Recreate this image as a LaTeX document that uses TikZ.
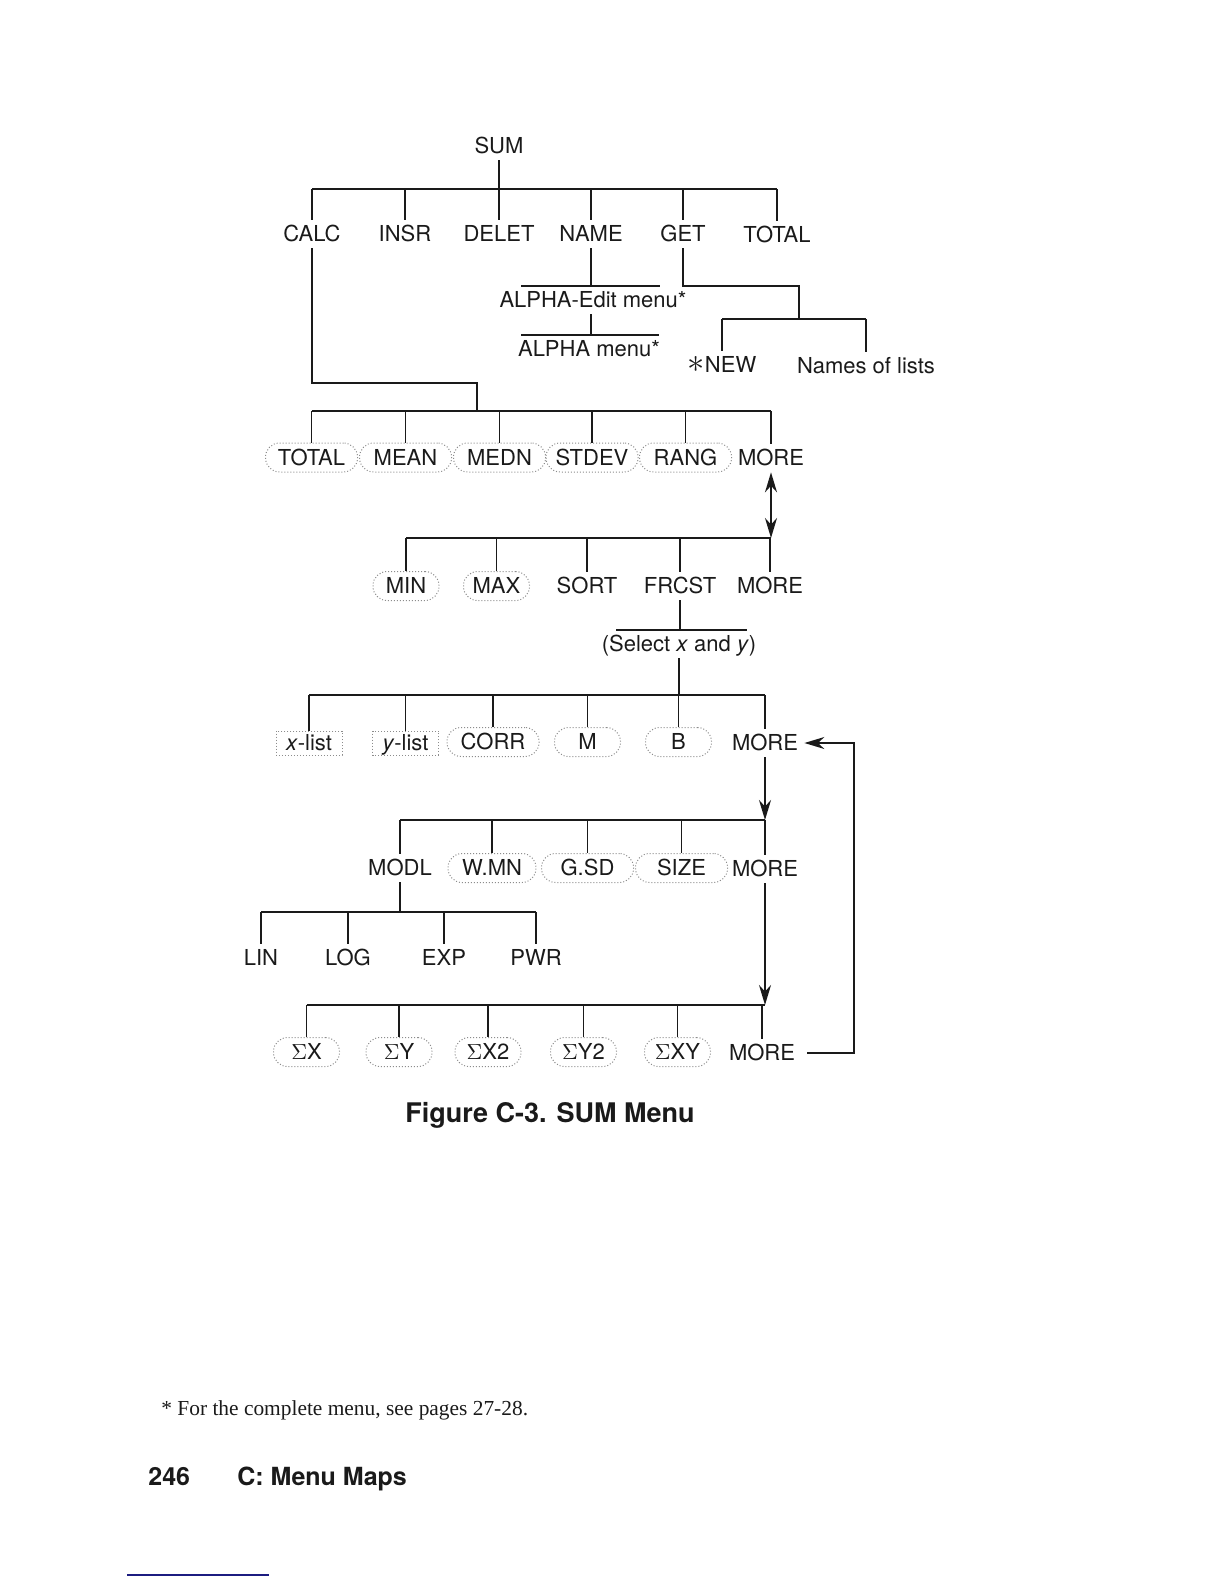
\documentclass[tikz,border=0pt]{standalone}
\usepackage{fontspec}
\setmainfont{Liberation Serif}
\setsansfont{TeX Gyre Heros}
\usetikzlibrary{arrows.meta,calc}
\definecolor{ink}{HTML}{1A1A1A}
\definecolor{dotgray}{HTML}{8C8C8C}
\definecolor{rulenavy}{HTML}{1C1C80}

\begin{document}
\begin{tikzpicture}[
  x=0.5bp,y=-0.5bp,
  font=\sffamily\fontsize{11bp}{13bp}\selectfont,
  lbl/.style={inner sep=3bp,text height=7.9bp,text depth=0pt,text=ink},
  softkey/.style={draw=dotgray,densely dotted,line width=0.5bp,rounded corners=7bp,
              minimum width=46bp,minimum height=14.5bp,inner sep=0pt,
              text height=7.9bp,text depth=0pt,text=ink},
  softkeyn/.style={softkey,minimum width=33bp},
  lst/.style={draw=dotgray,densely dotted,line width=0.5bp,minimum width=33bp,
              minimum height=12bp,inner sep=0pt,text height=7.9bp,text depth=0pt,text=ink},
  ln/.style={draw=ink,line width=0.9bp},
  arr/.style={ln,-{Stealth[length=10bp,width=6bp]}},
  arrs/.style={ln,{Stealth[length=10bp,width=6bp]}-{Stealth[length=10bp,width=6bp]}}
]
\useasboundingbox (0,0) rectangle (1224,1584);

% ---- level 1: SUM menu
\node[lbl] (sum) at (499,146) {SUM};
\node[lbl] (calc) at (312,234) {CALC};
\node[lbl] (insr) at (405,234) {INSR};
\node[lbl] (delet) at (499,234) {DELET};
\node[lbl] (name) at (591,234) {NAME};
\node[lbl] (get) at (683,234) {GET};
\node[lbl] (total) at (777,235) {TOTAL};
\coordinate (b1) at (499,189);
\draw[ln] (sum.south) -- (sum.south |- b1);
\draw[ln] (calc.north |- b1) -- (total.north |- b1);
\foreach \n in {calc,insr,delet,name,get,total}
  \draw[ln] (\n.north |- b1) -- (\n.north);

% ---- NAME branch
\node[lbl] (aedit) at (593,300) {ALPHA-Edit menu*};
\node[lbl] (alpha) at (589,349) {ALPHA menu*};
\draw[ln] (name.south) -- (name.south |- aedit.north);
\draw[ln] ($(aedit.north)+(-72,0)$) -- ($(aedit.north)+(67,0)$);
\draw[ln] (name.south |- aedit.south) -- (name.south |- alpha.north);
\draw[ln] ($(alpha.north)+(-68,0)$) -- ($(alpha.north)+(70,0)$);

% ---- GET branch
\node[lbl] (new) at (722,365) {{\fontsize{17bp}{17bp}\selectfont$\ast$}NEW};
\node[lbl] (lists) at (866,366) {Names of lists};
\coordinate (g1) at (799,286);
\coordinate (bg) at (799,319);
\draw[ln] (get.south) |- (g1) -- (bg);
\draw[ln] (new.north |- bg) -- (lists.north |- bg);
\foreach \n in {new,lists}
  \draw[ln] (\n.north |- bg) -- (\n.north);

% ---- CALC: row 2
\coordinate (c1) at (477,383);
\coordinate (b2) at (477,411);
\draw[ln] (calc.south) |- (c1) -- (b2);
\node[softkey] (tot) at (311.5,457.5) {TOTAL};
\node[softkey] (mean) at (405.5,457.5) {MEAN};
\node[softkey] (medn) at (499.5,457.5) {MEDN};
\node[softkey] (stdev) at (592,457.5) {STDEV};
\node[softkey] (rang) at (685.5,457.5) {RANG};
\node[lbl] (more1) at (771,458) {MORE};
\draw[ln] (tot.north |- b2) -- (more1.north |- b2);
\foreach \n in {tot,mean,medn,stdev,rang,more1}
  \draw[ln] (\n.north |- b2) -- (\n.north);

% ---- row 3
\coordinate (b3) at (771,538);
\draw[arrs] (more1.south) -- (b3);
\node[softkeyn] (min) at (406,586) {MIN};
\node[softkeyn] (max) at (496.5,586) {MAX};
\node[lbl] (sort) at (587,586) {SORT};
\node[lbl] (frcst) at (680,586) {FRCST};
\node[lbl] (more2) at (770,586) {MORE};
\draw[ln] (min.north |- b3) -- (b3);
\foreach \n in {min,max,sort,frcst,more2}
  \draw[ln] (\n.north |- b3) -- (\n.north);

% ---- FRCST: select x and y, row 4
\node[lbl] (sel) at (679,644) {(Select \textit{x} and \textit{y})};
\draw[ln] (frcst.south) -- (frcst.south |- sel.north);
\draw[ln] ($(sel.north)+(-63,0)$) -- ($(sel.north)+(68,0)$);
\coordinate (b4) at (767,695);
\draw[ln] (sel.south) -- (sel.south |- b4);
\node[lst] (xl) at (309,743) {\textit{x}-list};
\node[lst] (yl) at (405.5,743) {\textit{y}-list};
\node[softkey] (corr) at (493,742) {CORR};
\node[softkeyn] (m) at (587.5,742) {M};
\node[softkeyn] (b) at (678.5,742) {B};
\node[lbl] (more3) at (765,743) {MORE};
\draw[ln] (xl.north |- b4) -- (more3.north |- b4);
\foreach \n in {xl,yl,corr,m,b,more3}
  \draw[ln] (\n.north |- b4) -- (\n.north);

% ---- row 5
\coordinate (b5) at (765,820);
\draw[arr] (more3.south) -- (b5);
\node[lbl] (modl) at (400,868) {MODL};
\node[softkey,minimum width=44bp] (wmn) at (492,868) {W.MN};
\node[softkey] (gsd) at (587.5,868) {G.SD};
\node[softkey] (size) at (681.5,868) {SIZE};
\node[lbl] (more4) at (765,869) {MORE};
\draw[ln] (modl.north |- b5) -- (b5);
\foreach \n in {modl,wmn,gsd,size,more4}
  \draw[ln] (\n.north |- b5) -- (\n.north);

% ---- MODL: regression models
\coordinate (b6) at (400,912);
\draw[ln] (modl.south) -- (b6);
\node[lbl] (lin) at (261,958) {LIN};
\node[lbl] (log) at (348,958) {LOG};
\node[lbl] (exp) at (444,958) {EXP};
\node[lbl] (pwr) at (536,958) {PWR};
\draw[ln] (lin.north |- b6) -- (pwr.north |- b6);
\foreach \n in {lin,log,exp,pwr}
  \draw[ln] (\n.north |- b6) -- (\n.north);

% ---- row 7: sums
\coordinate (b7) at (765,1005);
\draw[arr] (more4.south) -- (b7);
\node[softkeyn] (sx) at (306.5,1052) {$\Sigma$X};
\node[softkeyn] (sy) at (399,1052) {$\Sigma$Y};
\node[softkeyn] (sx2) at (488,1052) {$\Sigma$X2};
\node[softkeyn] (sy2) at (583.5,1052) {$\Sigma$Y2};
\node[softkeyn] (sxy) at (677.5,1052) {$\Sigma$XY};
\node[lbl] (more5) at (762,1053) {MORE};
\draw[ln] (sx.north |- b7) -- (b7);
\foreach \n in {sx,sy,sx2,sy2,sxy,more5}
  \draw[ln] (\n.north |- b7) -- (\n.north);
\coordinate (loop) at (854,743);
\draw[arr,shorten <=3bp] (more5.east) -| (loop) -- (more3.east);

% ---- caption and page text
\node[anchor=base,font=\sffamily\bfseries\fontsize{13.5bp}{16bp}\selectfont,text=ink]
  (cap) at (550,1122) {Figure C-3. SUM Menu};
\node[anchor=base west,inner sep=0pt,font=\rmfamily\fontsize{10.7bp}{13bp}\selectfont,text=ink]
  (fn) at (161,1415) {* For the complete menu, see pages 27-28.};
\node[anchor=base west,inner sep=0pt,font=\sffamily\bfseries\fontsize{12.5bp}{15bp}\selectfont,text=ink]
  (pg) at (148,1485) {246};
\node[anchor=base west,inner sep=0pt,font=\sffamily\bfseries\fontsize{12.5bp}{15bp}\selectfont,text=ink]
  (hd) at (237,1485) {C: Menu Maps};
\draw[rulenavy,line width=1.2bp] (127,1575) -- (269,1575);
\end{tikzpicture}
\end{document}
